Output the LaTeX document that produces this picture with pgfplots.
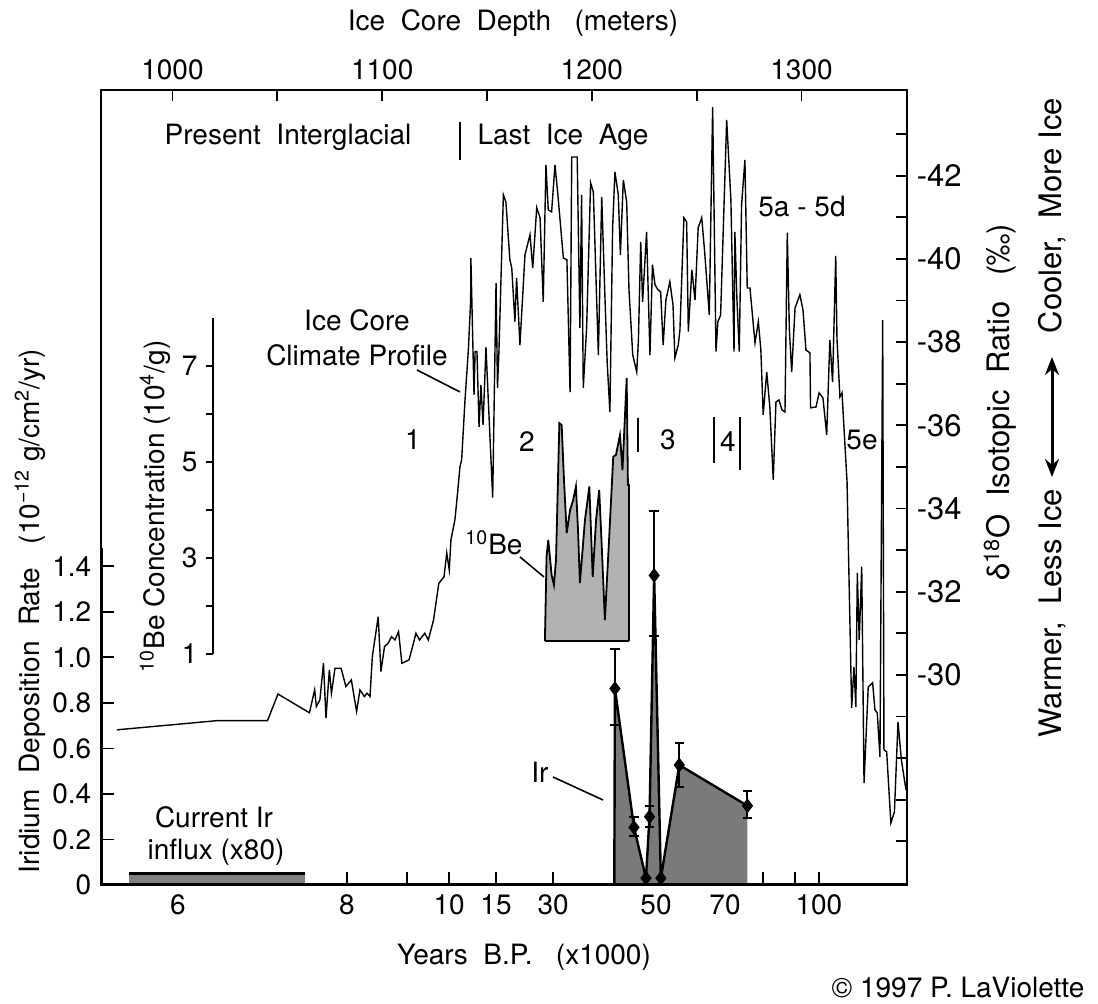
\documentclass[border=0pt]{standalone}
\usepackage{fontspec}
\setmainfont{TeX Gyre Heros}
\usepackage{pgfplots}
\pgfplotsset{compat=1.18}
\usetikzlibrary{arrows.meta}

\begin{document}
\fontsize{14}{16}\selectfont
\begin{tikzpicture}
\useasboundingbox (-50.5pt,-59.5pt) rectangle (498.5pt,442.5pt);
\pgfplotsset{
  frame/.style={
    scale only axis, width=403pt, height=397.5pt,
    at={(0,0)}, anchor=south west,
    xmin=965.9, xmax=1350.3,
    axis line style={line width=1pt},
    tick align=inside,
    tick style={black, line width=0.9pt},
    /pgf/number format/assume math mode=true,
    tick label style={font=\fontsize{14}{16}\selectfont},
  },
}

% Iridium deposition rate (left axis, years at the bottom)
\begin{axis}[frame,
  ymin=0, ymax=3.493,
  xtick pos=left, ytick pos=left,
  xtick={1002.6,1045.1,1083.2,1111.8,1131.9,1154.3,1181.5,1216.7,1230.6,1243.9,1263.5,1281.6,1296.9,1308.3},
  xticklabels={6,,8,,10,15,30,,50,,70,,,100},
  ytick={0,0.2,0.4,0.6,0.8,1.0,1.2,1.4},
  yticklabels={0,0.2,0.4,0.6,0.8,1.0,1.2,1.4},
  major tick length=6.5pt,
]
% current Ir influx (x80)
\addplot[fill=black!50, draw=none] coordinates {(979.3,0) (979.3,0.055) (1063.2,0.055) (1063.2,0)} \closedcycle;
\addplot[black, line width=1.4pt] coordinates {(979.3,0.05) (1063.2,0.05)};
% Ir deposition
\addplot[draw=none, fill=black!52] coordinates {
 (1210.7,0) (1211.0,0.863) (1220.1,0.253) (1225.8,0.03) (1227.5,0.30) (1229.7,1.36)
 (1232.9,0.03) (1241.7,0.527) (1274.2,0.348) (1274.2,0)} \closedcycle;
\addplot[black, line width=1.2pt] coordinates {
 (1210.7,0) (1211.0,0.863) (1220.1,0.253) (1225.8,0.03) (1227.5,0.30) (1229.7,1.36)
 (1232.9,0.03) (1241.7,0.527) (1274.2,0.348)};
\addplot[black, only marks, mark=diamond*, mark size=3.4pt,
  error bars/.cd, y dir=both, y explicit,
  error bar style={line width=1pt},
  error mark options={rotate=90, mark size=2.4pt, line width=1pt}]
coordinates {
 (1211.0,0.863) += (0,0.173) -= (0,0.160)
 (1220.1,0.253) += (0,0.044) -= (0,0.037)
 (1225.8,0.03)  += (0,0) -= (0,0)
 (1227.5,0.30)  += (0,0.047) -= (0,0.046)
 (1229.7,1.36)  += (0,0.282) -= (0,0.266)
 (1232.9,0.03)  += (0,0) -= (0,0)
 (1241.7,0.527) += (0,0.096) -= (0,0.096)
 (1274.2,0.348) += (0,0.063) -= (0,0.055)
};
\draw[line width=1.8pt] (axis cs:965.9,0) -- (axis cs:965.9,1.48);
\draw[line width=1.5pt] (axis cs:965.9,0) -- (axis cs:1350.3,0);
\end{axis}

% 10Be concentration
\begin{axis}[frame, hide axis, ymin=-3.81, ymax=12.75]
\addplot[draw=black, line width=0.9pt, fill=black!30] coordinates {
 (1177.6,1.27) (1178.4,3.03) (1179.2,3.375) (1180.8,2.65) (1181.9,2.44) (1182.9,2.96)
 (1184.5,5.81) (1185.6,5.77) (1186.7,4.63) (1188.0,3.52) (1189.6,4.0) (1191.1,4.21)
 (1192.4,4.49) (1193.4,3.58) (1194.3,2.48) (1196.7,3.79) (1198.8,4.49) (1200.4,2.61)
 (1202.0,3.79) (1203.5,4.42) (1204.8,3.17) (1206.2,1.71) (1208.2,3.375) (1210.2,5.11)
 (1211.5,5.15) (1213.4,5.56) (1214.6,4.83) (1216.6,6.75) (1217.2,4.52) (1217.7,4.52)
 (1217.7,1.27)};
\draw[line width=1.3pt] (axis cs:1177.6,1.27) -- (axis cs:1217.9,1.27);
\draw[line width=1pt] (axis cs:1019.3,1) -- (axis cs:1019.3,8);
\pgfplotsinvokeforeach{1,2,3,4,5,6,7}{\draw[line width=1pt] (axis cs:1019.3,#1) -- (axis cs:1015.9,#1);}
\node[anchor=east] at (axis cs:1016.5,1) {1};
\node[anchor=east] at (axis cs:1016.5,3) {3};
\node[anchor=east] at (axis cs:1016.5,5) {5};
\node[anchor=east] at (axis cs:1016.5,7) {7};
\end{axis}

% delta-18O climate profile (right axis, depth on top)
\begin{axis}[frame,
  y dir=reverse, ymin=-44.06, ymax=-24.95,
  xtick pos=right, xticklabel pos=right,
  ytick pos=right, yticklabel pos=right,
  xtick={1000,1050,1100,1150,1200,1250,1300},
  xticklabels={1000,,1100,,1200,,1300},
  ytick={-43,-42,-41,-40,-39,-38,-37,-36,-35,-34,-33,-32,-31,-30,-29,-28,-27,-26},
  yticklabels={,-42,,-40,,-38,,-36,,-34,,-32,,-30,,,,},
  yticklabel style={font=\fontsize{15.5}{17}\selectfont},
  major tick length=5.5pt,
]
\addplot[black, line width=0.7pt] coordinates {
 (973.5,-28.68) (1021.2,-28.90) (1045.3,-28.90) (1050.3,-29.54) (1065.3,-29.09)
 (1067.8,-29.64) (1068.6,-29.24) (1070.3,-29.40) (1072.0,-30.28) (1073.2,-28.96)
 (1074.8,-30.12) (1075.8,-29.56) (1077.5,-30.16) (1080.4,-30.16) (1082.7,-29.72)
 (1085.3,-29.88) (1087.8,-29.12) (1089.4,-29.64) (1091.5,-29.48) (1092.8,-29.56)
 (1094.2,-29.48) (1095.3,-30.44) (1098.1,-31.40) (1099.4,-30.08) (1101.1,-30.68)
 (1102.8,-30.76) (1104.5,-30.92) (1106.1,-30.84) (1107.8,-31.04) (1109.4,-30.28)
 (1112.8,-30.36) (1114.5,-30.68) (1116.1,-31.00) (1117.8,-30.84) (1120.3,-31.00)
 (1122.0,-30.84) (1124.5,-31.32) (1127.0,-32.20) (1129.5,-32.36) (1130.8,-32.93)
 (1132.0,-32.52) (1132.8,-33.25) (1134.7,-33.73) (1136.1,-34.45) (1137.1,-35.01)
 (1137.9,-35.17) (1139.5,-36.61) (1141.1,-37.81) (1142.2,-39.01) (1142.3,-40.02)
 (1143.8,-36.73) (1144.3,-37.77) (1145.2,-37.77) (1146.2,-35.96) (1147.1,-36.97)
 (1148.1,-36.01) (1149.5,-37.88) (1150.5,-36.73) (1152.7,-34.26) (1154.3,-39.42)
 (1155.0,-36.90) (1155.7,-37.81) (1157.8,-41.54) (1159.0,-41.37) (1160.9,-39.98)
 (1161.8,-39.78) (1163.3,-38.49) (1164.1,-39.54) (1165.7,-37.93) (1168.1,-40.10)
 (1170.5,-40.58) (1171.8,-39.78) (1173.7,-41.23) (1175.3,-40.99) (1176.8,-38.97)
 (1178.1,-42.26) (1179.2,-41.18) (1180.8,-41.13) (1182.4,-42.26) (1183.8,-41.54)
 (1186.4,-40.02) (1188.1,-39.98) (1189.6,-36.80) (1190.4,-42.45) (1193.0,-42.45)
 (1194.3,-38.34) (1195.1,-41.54) (1195.9,-36.90) (1197.5,-38.34) (1199.4,-41.83)
 (1200.7,-41.61) (1203.1,-37.69) (1204.7,-41.49) (1206.2,-39.14) (1207.3,-37.52)
 (1208.6,-36.32) (1209.9,-40.75) (1211.0,-42.09) (1212.6,-41.54) (1213.6,-40.10)
 (1215.0,-41.90) (1216.6,-41.37) (1217.7,-39.26) (1219.5,-37.69) (1221.4,-37.28)
 (1222.2,-38.05) (1223.3,-40.41) (1224.2,-38.97) (1226.1,-40.65) (1227.7,-37.69)
 (1228.9,-39.86) (1230.1,-39.38) (1231.5,-39.26) (1232.8,-39.21) (1234.0,-37.93)
 (1235.3,-39.01) (1237.2,-39.45) (1238.7,-38.89) (1239.6,-37.62) (1241.2,-37.93)
 (1242.0,-38.29) (1243.9,-40.99) (1245.2,-40.89) (1246.0,-38.25) (1247.7,-39.74)
 (1249.2,-39.01) (1250.7,-40.75) (1252.4,-40.99) (1253.9,-40.10) (1256.0,-38.65)
 (1257.6,-43.65) (1259.2,-37.77) (1260.1,-38.49) (1261.4,-38.65) (1264.3,-43.34)
 (1266.3,-41.42) (1267.8,-37.77) (1268.2,-40.65) (1269.2,-39.01) (1270.3,-37.77)
 (1271.4,-41.30) (1273.0,-42.38) (1274.1,-39.30) (1275.4,-39.30) (1277.8,-37.98)
 (1279.4,-38.49) (1280.6,-37.81) (1281.7,-36.25) (1283.4,-37.28) (1284.9,-36.42)
 (1286.5,-34.69) (1287.8,-36.56) (1289.2,-36.61) (1290.7,-36.37) (1292.1,-36.32)
 (1293.2,-40.63) (1294.2,-38.29) (1295.3,-37.28) (1296.9,-38.82) (1299.2,-39.14)
 (1300.7,-38.77) (1302.1,-37.81) (1304.0,-37.74) (1304.3,-36.42) (1306.9,-36.44)
 (1308.4,-36.78) (1310.2,-36.66) (1312.0,-35.77) (1313.5,-38.05) (1314.8,-37.04)
 (1316.3,-40.07) (1316.9,-38.08) (1318.3,-36.68) (1319.3,-36.78) (1321.7,-34.64)
 (1323.9,-29.21) (1325.0,-30.19) (1325.9,-29.23) (1326.6,-32.45) (1327.5,-30.84)
 (1328.7,-32.60) (1329.8,-27.40) (1331.8,-29.71) (1333.9,-29.81) (1335.0,-29.16)
 (1336.1,-29.09) (1337.4,-28.03) (1338.7,-38.53) (1339.3,-28.20) (1340.6,-28.15)
 (1342.6,-26.44) (1344.3,-26.71) (1346.0,-28.87) (1347.6,-27.96) (1349.8,-27.24)
};
\end{axis}

% text, in pixel units of the reference
\begin{scope}[shift={(-50.5pt,442.5pt)}, x=0.5pt, y=-0.5pt]
\node at (513,23) {Ice~~Core~~Depth~~~(meters)};
\node at (524,957) {Years~~B.P.~~~(x1000)};
\node at (958,988) {© 1997 P. LaViolette};
\node[rotate=90, anchor=west] at (30,883) {Iridium~~Deposition~~Rate~~~(10\textsuperscript{−12}~g/cm\textsuperscript{2}/yr)};
\node[rotate=90, anchor=west] at (155,682) {\textsuperscript{10}Be Concentration (10\textsuperscript{4}/g)};
\node at (288,137) {Present~~Interglacial};
\draw[line width=1pt] (460,122) -- (460,160);
\node at (563,137) {Last~~Ice~~Age};
\node at (357,320) {Ice Core};
\node at (357,355) {Climate Profile};
\draw[line width=0.8pt] (417,370) -- (460,392);
\node at (413,440) {1};
\node at (527,442) {2};
\draw[line width=1pt] (638,418) -- (638,452);
\node at (668,440) {3};
\draw[line width=1pt] (714,417) -- (714,463);
\node at (728,442) {4};
\draw[line width=1pt] (740,417) -- (740,470);
\node at (802,207) {5a - 5d};
\node at (862,440) {5e};
\node at (494,543) {\textsuperscript{10}Be};
\draw[line width=0.8pt] (520,557) -- (544,577);
\node at (540,772) {Ir};
\draw[line width=0.8pt] (553,777) -- (603,800);
\node at (214,817) {Current Ir};
\node at (216,852) {influx (x80)};
\node[rotate=90, font=\fontsize{15.5}{17}\selectfont] at (1000,402) {δ\textsuperscript{18}O~~Isotopic~~Ratio~~~(‰)};
\node[rotate=90, anchor=west, font=\fontsize{15.5}{17}\selectfont] at (1052,747) {Warmer,~~Less Ice};
\draw[{Stealth[length=9pt,width=7pt]}-{Stealth[length=9pt,width=7pt]}, line width=1.5pt] (1052,477) -- (1052,357);
\node[rotate=90, anchor=west, font=\fontsize{15.5}{17}\selectfont] at (1052,343) {Cooler,~~More Ice};
\end{scope}
\end{tikzpicture}
\end{document}
